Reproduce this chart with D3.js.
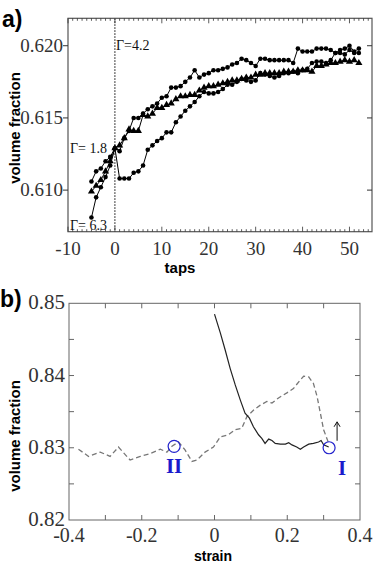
<!DOCTYPE html>
<html>
<head>
<meta charset="utf-8">
<script src="https://cdn.jsdelivr.net/npm/d3@7"></script>
<style>
  body { margin: 0; background: #fff; }
  svg { display: block; }
  .tick-label { font-family: "Liberation Serif", "DejaVu Serif", serif; fill: #333; }
  .title { font-family: "Liberation Sans", Arial, sans-serif; font-weight: bold; fill: #000; }
</style>
</head>
<body>
<svg id="chart" width="374" height="564"></svg>
<script>
// ---- panel a data: volume fraction vs taps ----
const taps = [-5, -4, -3, -2, -1, 0, 1, 2, 3, 4, 5, 6, 7, 8, 9, 10, 11, 12, 13, 14,
    15, 16, 17, 18, 19, 20, 21, 22, 23, 24, 25, 26, 27, 28, 29, 30, 31, 32, 33, 34,
    35, 36, 37, 38, 39, 40, 41, 42, 43, 44, 45, 46, 47, 48, 49, 50, 51, 52];

// gamma 6.3 (circles, ends highest)
const upperSeries = [0.6081, 0.6095, 0.6102, 0.6109, 0.6117, 0.6129, 0.6127, 0.6136, 0.6141, 0.6150,
    0.6150, 0.6153, 0.6156, 0.6158, 0.6160, 0.6164, 0.6165, 0.6171, 0.6171, 0.6172,
    0.6175, 0.6178, 0.6183, 0.6178, 0.6180, 0.6181, 0.6183, 0.6183, 0.6184, 0.6185,
    0.6187, 0.6188, 0.6191, 0.6190, 0.6188, 0.6186, 0.6191, 0.6191, 0.6190, 0.6190,
    0.6190, 0.6190, 0.6190, 0.6188, 0.6198, 0.6196, 0.6196, 0.6196, 0.6198, 0.6198,
    0.6198, 0.6197, 0.6195, 0.6197, 0.6198, 0.6200, 0.6196, 0.6198];

// triangles
const middleSeries = [0.6099, 0.6103, 0.6107, 0.6113, 0.6120, 0.6129, 0.6131, 0.6136, 0.6142, 0.6141,
    0.6141, 0.6152, 0.6151, 0.6153, 0.6157, 0.6157, 0.6159, 0.6160, 0.6163, 0.6165,
    0.6165, 0.6166, 0.6166, 0.6169, 0.6171, 0.6172, 0.6172, 0.6173, 0.6174, 0.6175,
    0.6176, 0.6176, 0.6177, 0.6178, 0.6178, 0.6180, 0.6180, 0.6181, 0.6181, 0.6181,
    0.6181, 0.6182, 0.6182, 0.6182, 0.6183, 0.6183, 0.6183, 0.6182, 0.6186, 0.6186,
    0.6187, 0.6188, 0.6188, 0.6189, 0.6190, 0.6189, 0.6190, 0.6188];

// circles, drops after the switch to gamma 4.2
const lowerSeries = [0.6106, 0.6113, 0.6115, 0.6120, 0.6123, 0.6129, 0.6108, 0.6108, 0.6108, 0.6112,
    0.6113, 0.6117, 0.6128, 0.6131, 0.6134, 0.6136, 0.6140, 0.6140, 0.6147, 0.6151,
    0.6155, 0.6158, 0.6161, 0.6165, 0.6168, 0.6167, 0.6167, 0.6168, 0.6170, 0.6173,
    0.6173, 0.6175, 0.6177, 0.6176, 0.6175, 0.6176, 0.6181, 0.6180, 0.6179, 0.6178,
    0.6179, 0.6181, 0.6181, 0.6182, 0.6181, 0.6183, 0.6184, 0.6188, 0.6189, 0.6189,
    0.6188, 0.6190, 0.6195, 0.6195, 0.6194, 0.6197, 0.6195, 0.6195];

const tapTicks = [-10, 0, 10, 20, 30, 40, 50];
const fractionTicksA = [0.610, 0.615, 0.620];

// ---- panel b data: volume fraction vs strain ----
const solidStrain = [0.000, 0.016, 0.029, 0.043, 0.057, 0.071, 0.084, 0.096, 0.107, 0.121,
    0.130, 0.139, 0.149, 0.158, 0.167, 0.181, 0.195, 0.204, 0.213, 0.226,
    0.236, 0.245, 0.259, 0.272, 0.286, 0.293, 0.300, 0.314];
const solidFraction = [0.8485, 0.8459, 0.8436, 0.8410, 0.8387, 0.8366, 0.8348, 0.8341, 0.8329, 0.8318,
    0.8313, 0.8306, 0.8312, 0.8310, 0.8306, 0.8305, 0.8305, 0.8307, 0.8304, 0.8301,
    0.8298, 0.8301, 0.8305, 0.8306, 0.8308, 0.8310, 0.8304, 0.8301];

const dashedStrain = [-0.374, -0.346, -0.314, -0.287, -0.264, -0.232, -0.204, -0.177, -0.149, -0.131,
    -0.117, -0.099, -0.081, -0.062, -0.048, -0.026, -0.003, 0.016, 0.038, 0.057,
    0.075, 0.089, 0.107, 0.126, 0.144, 0.158, 0.176, 0.199, 0.217, 0.236,
    0.245, 0.259, 0.272, 0.282, 0.291, 0.300, 0.314];
const dashedFraction = [0.8298, 0.8288, 0.8294, 0.8288, 0.8301, 0.8283, 0.8288, 0.8292, 0.8298, 0.8294,
    0.8302, 0.8308, 0.8297, 0.8281, 0.8283, 0.8294, 0.8301, 0.8315, 0.8318, 0.8325,
    0.8327, 0.8343, 0.8352, 0.8359, 0.8364, 0.8362, 0.8369, 0.8376, 0.8382, 0.8394,
    0.8399, 0.8398, 0.8389, 0.8371, 0.8348, 0.8325, 0.8306];

const strainTicks = [-0.4, -0.2, 0, 0.2, 0.4];
const fractionTicksB = [0.82, 0.83, 0.84, 0.85];

// marked states: strain, fraction, label
const markedStrain = [-0.111, 0.315];
const markedFraction = [0.8302, 0.8300];
const markedLabels = ['II', 'I'];

const svg = d3.select('#chart');

// ================= panel a =================
const xa = d3.scaleLinear().domain([-10, 54.8]).range([68, 372]);
const ya = d3.scaleLinear().domain([0.60712, 0.6219]).range([231.7, 18.3]);

const gA = svg.append('g');

// dotted vertical line at tap 0
gA.append('line')
    .attr('x1', xa(0)).attr('x2', xa(0))
    .attr('y1', ya.range()[1]).attr('y2', ya.range()[0])
    .attr('stroke', '#000')
    .attr('stroke-width', 1)
    .attr('stroke-dasharray', '1.5,1.5');

// frame
gA.append('rect')
    .attr('x', xa.range()[0]).attr('y', ya.range()[1])
    .attr('width', xa.range()[1] - xa.range()[0])
    .attr('height', ya.range()[0] - ya.range()[1])
    .attr('fill', 'none')
    .attr('stroke', '#555')
    .attr('stroke-width', 1.2);

// minor/major ticks on top and bottom
const minorTaps = d3.range(-10, 55, 1);
minorTaps.forEach(t => {
    const len = t % 10 === 0 ? 5 : 2.5;
    gA.append('line')
        .attr('x1', xa(t)).attr('x2', xa(t))
        .attr('y1', ya.range()[0]).attr('y2', ya.range()[0] - len)
        .attr('stroke', '#333').attr('stroke-width', 0.8);
    gA.append('line')
        .attr('x1', xa(t)).attr('x2', xa(t))
        .attr('y1', ya.range()[1]).attr('y2', ya.range()[1] + len)
        .attr('stroke', '#333').attr('stroke-width', 0.8);
});

// y ticks: outward on left, inward on right
fractionTicksA.forEach(v => {
    gA.append('line')
        .attr('x1', xa.range()[0] - 5).attr('x2', xa.range()[0])
        .attr('y1', ya(v)).attr('y2', ya(v))
        .attr('stroke', '#333');
    gA.append('line')
        .attr('x1', xa.range()[1] - 5).attr('x2', xa.range()[1])
        .attr('y1', ya(v)).attr('y2', ya(v))
        .attr('stroke', '#333');
});

gA.selectAll('.ytl')
    .data(fractionTicksA)
    .enter()
    .append('text')
    .attr('class', 'tick-label')
    .attr('x', 63)
    .attr('y', d => ya(d) + 6)
    .attr('text-anchor', 'end')
    .style('font-size', '19px')
    .text(d => d.toFixed(3));

gA.selectAll('.xtl')
    .data(tapTicks)
    .enter()
    .append('text')
    .attr('class', 'tick-label')
    .attr('x', d => xa(d))
    .attr('y', 255)
    .attr('text-anchor', 'middle')
    .style('font-size', '19px')
    .text(d => String(d));

const lineA = d3.line()
    .x((d, i) => xa(taps[i]))
    .y(d => ya(d));

[upperSeries, middleSeries, lowerSeries].forEach(series => {
    gA.append('path')
        .attr('d', lineA(series))
        .attr('fill', 'none')
        .attr('stroke', '#000')
        .attr('stroke-width', 1);
});

// circle markers
[upperSeries, lowerSeries].forEach(series => {
    gA.selectAll(null)
        .data(series)
        .enter()
        .append('circle')
        .attr('cx', (d, i) => xa(taps[i]))
        .attr('cy', d => ya(d))
        .attr('r', 2.3)
        .attr('fill', '#000');
});

// triangle markers
const tri = d3.symbol().type(d3.symbolTriangle).size(22);
gA.selectAll(null)
    .data(middleSeries)
    .enter()
    .append('path')
    .attr('d', tri)
    .attr('transform', (d, i) => `translate(${xa(taps[i])},${ya(d)})`)
    .attr('fill', '#000');

// gamma annotations
const gammaStyle = sel => sel.attr('class', 'tick-label').style('font-size', '14px').style('fill', '#111');
gA.append('text').call(gammaStyle).attr('x', 116).attr('y', 50).text('Γ=4.2');
gA.append('text').call(gammaStyle).attr('x', 70).attr('y', 153).text('Γ= 1.8');
gA.append('text').call(gammaStyle).attr('x', 70).attr('y', 230).text('Γ= 6.3');

svg.append('text').attr('class', 'title')
    .attr('x', 180).attr('y', 273)
    .attr('text-anchor', 'middle')
    .style('font-size', '15px')
    .text('taps');

svg.append('text').attr('class', 'title')
    .attr('transform', 'translate(20,128) rotate(-90)')
    .attr('text-anchor', 'middle')
    .style('font-size', '15px')
    .text('volume fraction');

svg.append('text').attr('class', 'title')
    .attr('x', 2).attr('y', 27)
    .style('font-size', '23px')
    .text('a)');

// ================= panel b =================
const xb = d3.scaleLinear().domain([-0.4, 0.4]).range([69, 360]);
const yb = d3.scaleLinear().domain([0.82, 0.85]).range([520, 303.3]);

const gB = svg.append('g');

gB.append('rect')
    .attr('x', xb.range()[0]).attr('y', yb.range()[1])
    .attr('width', xb.range()[1] - xb.range()[0])
    .attr('height', yb.range()[0] - yb.range()[1])
    .attr('fill', 'none')
    .attr('stroke', '#666')
    .attr('stroke-width', 1);

const minorStrain = [-0.3, -0.2, -0.1, 0, 0.1, 0.2, 0.3];
minorStrain.forEach(s => {
    gB.append('line')
        .attr('x1', xb(s)).attr('x2', xb(s))
        .attr('y1', yb.range()[0]).attr('y2', yb.range()[0] - 5)
        .attr('stroke', '#666');
    gB.append('line')
        .attr('x1', xb(s)).attr('x2', xb(s))
        .attr('y1', yb.range()[1]).attr('y2', yb.range()[1] + 5)
        .attr('stroke', '#666');
});

const minorFraction = [0.825, 0.83, 0.835, 0.84, 0.845];
minorFraction.forEach(v => {
    gB.append('line')
        .attr('x1', xb.range()[0]).attr('x2', xb.range()[0] + 5)
        .attr('y1', yb(v)).attr('y2', yb(v))
        .attr('stroke', '#666');
    gB.append('line')
        .attr('x1', xb.range()[1] - 5).attr('x2', xb.range()[1])
        .attr('y1', yb(v)).attr('y2', yb(v))
        .attr('stroke', '#666');
});

gB.selectAll('.ytl')
    .data(fractionTicksB)
    .enter()
    .append('text')
    .attr('class', 'tick-label')
    .attr('x', 65)
    .attr('y', d => yb(d) + 6)
    .attr('text-anchor', 'end')
    .style('font-size', '21px')
    .text(d => d.toFixed(2));

gB.selectAll('.xtl')
    .data(strainTicks)
    .enter()
    .append('text')
    .attr('class', 'tick-label')
    .attr('x', d => xb(d))
    .attr('y', 542)
    .attr('text-anchor', 'middle')
    .style('font-size', '20px')
    .text(d => d === 0 ? '0' : d.toFixed(1));

const lineB = d3.line()
    .x(d => xb(d[0]))
    .y(d => yb(d[1]));

gB.append('path')
    .attr('d', lineB(dashedStrain.map((s, i) => [s, dashedFraction[i]])))
    .attr('fill', 'none')
    .attr('stroke', '#777')
    .attr('stroke-width', 1.3)
    .attr('stroke-dasharray', '5,3');

gB.append('path')
    .attr('d', lineB(solidStrain.map((s, i) => [s, solidFraction[i]])))
    .attr('fill', 'none')
    .attr('stroke', '#222')
    .attr('stroke-width', 1.2);

// marked states
gB.selectAll('.mark')
    .data(markedStrain)
    .enter()
    .append('circle')
    .attr('cx', d => xb(d))
    .attr('cy', (d, i) => yb(markedFraction[i]))
    .attr('r', 6)
    .attr('fill', 'none')
    .attr('stroke', '#2222cc')
    .attr('stroke-width', 1.2);

gB.selectAll('.mark-label')
    .data(markedStrain)
    .enter()
    .append('text')
    .attr('x', (d, i) => xb(d) + (i === 1 ? 13 : 0))
    .attr('y', (d, i) => yb(markedFraction[i]) + 27)
    .attr('text-anchor', 'middle')
    .style('font-family', '"Liberation Serif", serif')
    .style('font-weight', 'bold')
    .style('font-size', '21px')
    .style('fill', '#1a1acc')
    .text((d, i) => markedLabels[i]);

// small upward arrow next to state I
const arrowX = xb(markedStrain[1]) + 8;
gB.append('line')
    .attr('x1', arrowX).attr('x2', arrowX)
    .attr('y1', yb(markedFraction[1]) - 7).attr('y2', yb(markedFraction[1]) - 25)
    .attr('stroke', '#111').attr('stroke-width', 1);
gB.append('path')
    .attr('d', `M${arrowX - 3},${yb(markedFraction[1]) - 21} L${arrowX},${yb(markedFraction[1]) - 26} L${arrowX + 3},${yb(markedFraction[1]) - 21}`)
    .attr('fill', 'none')
    .attr('stroke', '#111').attr('stroke-width', 1);

svg.append('text').attr('class', 'title')
    .attr('x', 213).attr('y', 561)
    .attr('text-anchor', 'middle')
    .style('font-size', '14px')
    .text('strain');

svg.append('text').attr('class', 'title')
    .attr('transform', 'translate(20,436) rotate(-90)')
    .attr('text-anchor', 'middle')
    .style('font-size', '15px')
    .text('volume fraction');

svg.append('text').attr('class', 'title')
    .attr('x', 0).attr('y', 307)
    .style('font-size', '23px')
    .text('b)');
</script>
</body>
</html>
